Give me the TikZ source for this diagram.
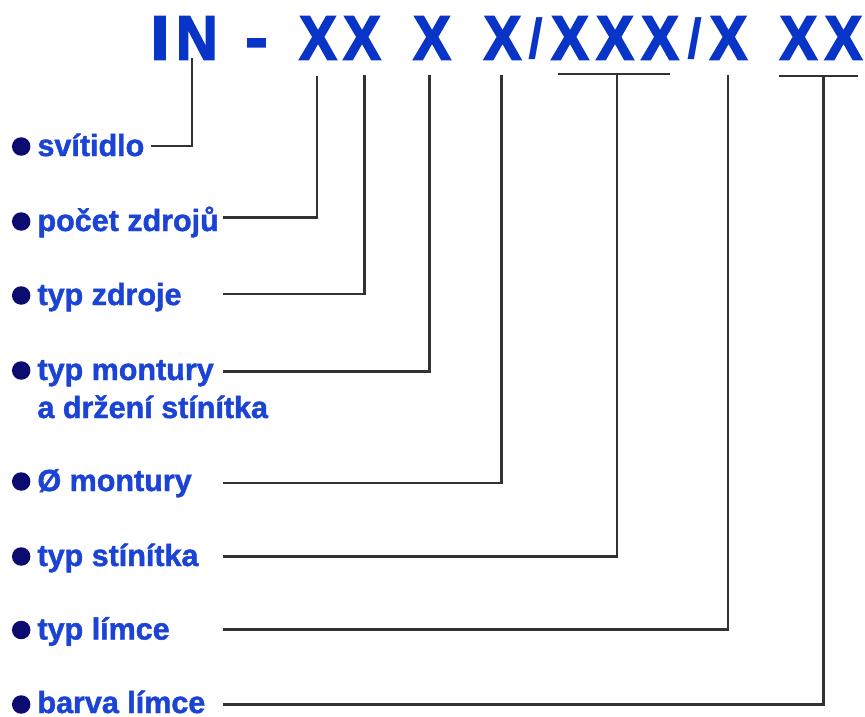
\documentclass[tikz,border=0pt]{standalone}
\usepackage{fontspec}
\setmainfont{Liberation Sans}
\newfontfamily\titlefont[BoldFeatures={FakeBold=3}]{Liberation Sans}
\newfontfamily\labfont[BoldFeatures={FakeBold=1.5}]{Liberation Sans}
\definecolor{titleblue}{RGB}{8,52,200}
\definecolor{labelblue}{RGB}{28,68,212}
\definecolor{dotblue}{RGB}{12,12,112}
\definecolor{linegray}{RGB}{52,48,52}
\newcommand\tglyph[3]{\resizebox*{#1pt}{#2pt}{#3}}
\begin{document}
\begin{tikzpicture}[x=1pt,y=-1pt,
  glyph/.style={inner sep=0pt, outer sep=0pt, anchor=south, text=titleblue, font=\titlefont\bfseries},
  slash/.style={glyph, font=\bfseries},
  lab/.style={inner sep=0pt, outer sep=0pt, anchor=base west, text=labelblue, font=\labfont\fontsize{30.5}{38}\selectfont\bfseries},
  dot/.style={circle, fill=dotblue, inner sep=0pt, minimum size=18.5pt},
  conn/.style={draw=linegray, line width=2.7pt, line join=miter}]
\fill[white] (0,0) rectangle (865,717);
\useasboundingbox (0,0) rectangle (865,717);
% title glyphs
\node[glyph] (gI)  at (160,59.5)   {\tglyph{19}{43}{I}};
\node[glyph] (gN)  at (197,59.5)   {\tglyph{41.5}{43}{N}};
\node[glyph] (gH)  at (256.5,59.5) {\tglyph{22}{20.5}{-}};
\node[glyph] (gX1) at (318,59.5)   {\tglyph{37.5}{43}{X}};
\node[glyph] (gX2) at (362,59.5)   {\tglyph{37.5}{43}{X}};
\node[glyph] (gX3) at (432,59.5)   {\tglyph{37.5}{43}{X}};
\node[glyph] (gX4) at (502.5,59.5) {\tglyph{37.5}{43}{X}};
\node[slash] (gS1) at (535.5,60) {\tglyph{15}{42}{/}};
\node[glyph] (gX5) at (570,59.5)   {\tglyph{37.5}{43}{X}};
\node[glyph] (gX6) at (615,59.5)   {\tglyph{37.5}{43}{X}};
\node[glyph] (gX7) at (660,59.5)   {\tglyph{37.5}{43}{X}};
\node[slash] (gS2) at (694.5,60) {\tglyph{15}{42}{/}};
\node[glyph] (gX8) at (728.5,59.5) {\tglyph{37.5}{43}{X}};
\node[glyph] (gX9) at (798.5,59.5) {\tglyph{37.5}{43}{X}};
\node[glyph] (gX10) at (843.5,59.5) {\tglyph{37.5}{43}{X}};
% bullets
\node[dot] (d1) at (21.2,146.5) {};
\node[dot] (d2) at (21.2,221.5) {};
\node[dot] (d3) at (21.2,295.5) {};
\node[dot] (d4) at (21.2,370.5) {};
\node[dot] (d5) at (21.2,481.5) {};
\node[dot] (d6) at (21.2,556.5) {};
\node[dot] (d7) at (21.2,630) {};
\node[dot] (d8) at (21.2,704.5) {};
% labels
\node[lab] (l1) at (37.5,156) {svítidlo};
\node[lab] (l2) at (37.5,231) {počet zdrojů};
\node[lab] (l3) at (37.5,305) {typ zdroje};
\node[lab] (l4) at (37.5,380) {typ montury};
\node[lab] (l4b) at (37.5,418) {a držení stínítka};
\node[lab] (l5) at (37.5,491) {Ø montury};
\node[lab] (l6) at (37.5,566) {typ stínítka};
\node[lab] (l7) at (37.5,639.5) {typ límce};
\node[lab] (l8) at (37.5,713) {barva límce};
% connector ends
\coordinate (s1) at (151,146);   \coordinate (t1) at (192,58);
\coordinate (s2) at (223,217.3); \coordinate (t2) at (317,76);
\coordinate (s3) at (223,294);   \coordinate (t3) at (364.5,75);
\coordinate (s4) at (223,371.5); \coordinate (t4) at (429.5,75);
\coordinate (s5) at (223,483);   \coordinate (t5) at (501.5,75);
\coordinate (s6) at (223,556.3); \coordinate (t6) at (617,74);
\coordinate (s7) at (223,629.7); \coordinate (t7) at (728,75);
\coordinate (s8) at (223,704.7); \coordinate (t8) at (823.5,76);
\coordinate (u1) at (558,74); \coordinate (u2) at (670,74);
\coordinate (u3) at (779,76); \coordinate (u4) at (858,76);
\draw[conn] (s1) -| (t1);
\draw[conn] (s2) -| (t2);
\draw[conn] (s3) -| (t3);
\draw[conn] (s4) -| (t4);
\draw[conn] (s5) -| (t5);
\draw[conn] (s6) -| (t6);
\draw[conn] (s7) -| (t7);
\draw[conn] (s8) -| (t8);
\draw[conn] (u1) -- (u2);
\draw[conn] (u3) -- (u4);
\end{tikzpicture}
\end{document}
